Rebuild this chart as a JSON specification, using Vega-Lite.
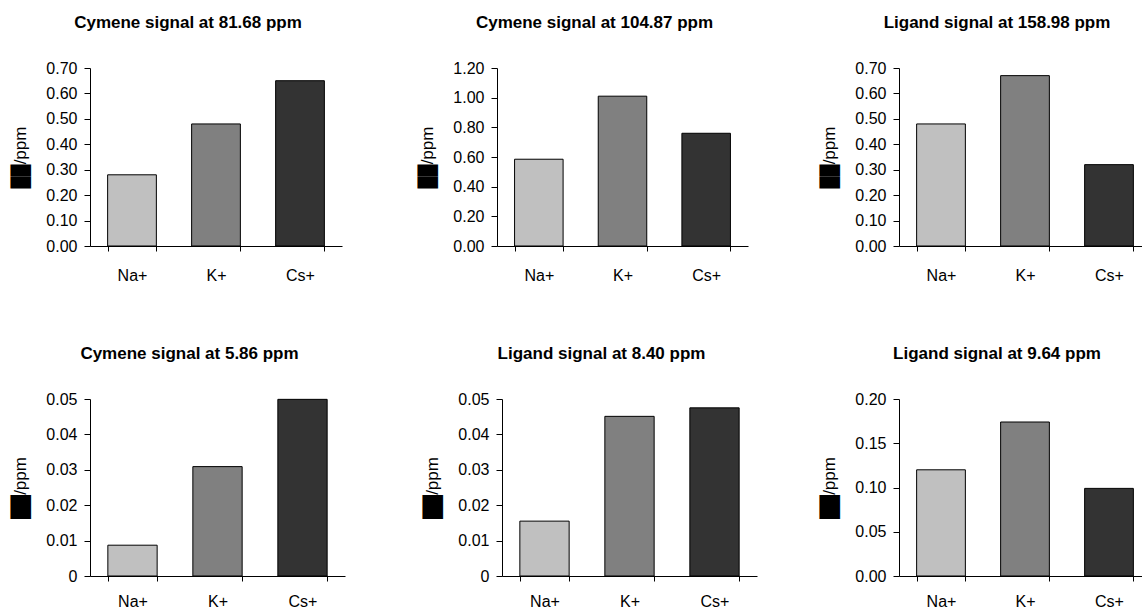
{
  "$schema": "https://vega.github.io/schema/vega-lite/v6.json",
  "padding": {"left": 11, "top": 14, "right": 0, "bottom": 0},
  "background": "white",
  "data": {"values": [
    {"panel": "p1", "ion": "Na+", "value": 0.28},
    {"panel": "p1", "ion": "K+", "value": 0.48},
    {"panel": "p1", "ion": "Cs+", "value": 0.65},
    {"panel": "p2", "ion": "Na+", "value": 0.585},
    {"panel": "p2", "ion": "K+", "value": 1.01},
    {"panel": "p2", "ion": "Cs+", "value": 0.76},
    {"panel": "p3", "ion": "Na+", "value": 0.48},
    {"panel": "p3", "ion": "K+", "value": 0.67},
    {"panel": "p3", "ion": "Cs+", "value": 0.32},
    {"panel": "p4", "ion": "Na+", "value": 0.0087},
    {"panel": "p4", "ion": "K+", "value": 0.0309},
    {"panel": "p4", "ion": "Cs+", "value": 0.0499},
    {"panel": "p5", "ion": "Na+", "value": 0.0155},
    {"panel": "p5", "ion": "K+", "value": 0.0451},
    {"panel": "p5", "ion": "Cs+", "value": 0.0475},
    {"panel": "p6", "ion": "Na+", "value": 0.12},
    {"panel": "p6", "ion": "K+", "value": 0.174},
    {"panel": "p6", "ion": "Cs+", "value": 0.099}
  ]},
  "config": {
    "font": "Liberation Sans",
    "view": {"stroke": null},
    "axis": {"domainColor": "black", "tickColor": "black", "labelColor": "black", "titleColor": "black", "labelFont": "Liberation Sans", "labelFontSize": 16, "grid": false, "domainWidth": 1, "tickWidth": 1},
    "axisX": {"tickBand": "extent", "tickSize": 5, "labelPadding": 16, "labelAngle": 0, "title": null},
    "axisY": {"tickSize": 6, "labelPadding": 7, "minExtent": 44, "maxExtent": 44, "titleFont": "Liberation Sans", "titleFontSize": 17, "titleFontWeight": "normal", "titlePadding": 17},
    "title": {"font": "Liberation Sans", "fontSize": 17, "fontWeight": "bold", "color": "black", "anchor": "middle", "frame": "group", "dx": -28, "baseline": "bottom", "offset": 28},
    "bar": {"stroke": "black", "strokeWidth": 1}
  },
  "spacing": 62,
  "resolve": {"scale": {"y": "independent", "x": "independent"}},
  "vconcat": [
    {
      "spacing": 72,
      "resolve": {"scale": {"y": "independent", "x": "independent"}},
      "hconcat": [
        {
          "spacing": 76,
          "resolve": {"scale": {"y": "independent", "x": "independent"}},
          "hconcat": [
            {
              "width": 252, "height": 178,
              "title": "Cymene signal at 81.68 ppm",
              "transform": [{"filter": "datum.panel == 'p1'"}],
              "mark": "bar",
              "encoding": {
                "x": {"field": "ion", "type": "nominal", "sort": ["Na+", "K+", "Cs+"], "scale": {"paddingInner": 0.42, "paddingOuter": 0.21}},
                "y": {"field": "value", "type": "quantitative", "scale": {"domain": [0, 0.7], "nice": false}, "axis": {"values": [0, 0.1, 0.2, 0.3, 0.4, 0.5, 0.6, 0.7], "format": ".2f", "title": "██/ppm"}},
                "color": {"field": "ion", "type": "nominal", "scale": {"domain": ["Na+", "K+", "Cs+"], "range": ["#c0c0c0", "#808080", "#333333"]}, "legend": null}
              }
            },
            {
              "width": 251, "height": 178,
              "title": "Cymene signal at 104.87 ppm",
              "transform": [{"filter": "datum.panel == 'p2'"}],
              "mark": "bar",
              "encoding": {
                "x": {"field": "ion", "type": "nominal", "sort": ["Na+", "K+", "Cs+"], "scale": {"paddingInner": 0.42, "paddingOuter": 0.21}},
                "y": {"field": "value", "type": "quantitative", "scale": {"domain": [0, 1.2], "nice": false}, "axis": {"values": [0, 0.2, 0.4, 0.6, 0.8, 1.0, 1.2], "format": ".2f", "title": "██/ppm"}},
                "color": {"field": "ion", "type": "nominal", "scale": {"domain": ["Na+", "K+", "Cs+"], "range": ["#c0c0c0", "#808080", "#333333"]}, "legend": null}
              }
            }
          ]
        },
        {
          "width": 252, "height": 178,
          "title": "Ligand signal at 158.98 ppm",
          "transform": [{"filter": "datum.panel == 'p3'"}],
          "mark": "bar",
          "encoding": {
            "x": {"field": "ion", "type": "nominal", "sort": ["Na+", "K+", "Cs+"], "scale": {"paddingInner": 0.42, "paddingOuter": 0.21}},
            "y": {"field": "value", "type": "quantitative", "scale": {"domain": [0, 0.7], "nice": false}, "axis": {"values": [0, 0.1, 0.2, 0.3, 0.4, 0.5, 0.6, 0.7], "format": ".2f", "title": "██/ppm"}},
            "color": {"field": "ion", "type": "nominal", "scale": {"domain": ["Na+", "K+", "Cs+"], "range": ["#c0c0c0", "#808080", "#333333"]}, "legend": null}
          }
        }
      ]
    },
    {
      "spacing": 63,
      "resolve": {"scale": {"y": "independent", "x": "independent"}},
      "hconcat": [
        {
          "spacing": 78,
          "resolve": {"scale": {"y": "independent", "x": "independent"}},
          "hconcat": [
            {
              "width": 255, "height": 177,
              "title": "Cymene signal at 5.86 ppm",
              "transform": [{"filter": "datum.panel == 'p4'"}],
              "mark": "bar",
              "encoding": {
                "x": {"field": "ion", "type": "nominal", "sort": ["Na+", "K+", "Cs+"], "scale": {"paddingInner": 0.42, "paddingOuter": 0.21}, "axis": {"labelPadding": 12}},
                "y": {"field": "value", "type": "quantitative", "scale": {"domain": [0, 0.05], "nice": false}, "axis": {"values": [0, 0.01, 0.02, 0.03, 0.04, 0.05], "labelExpr": "datum.value == 0 ? '0' : format(datum.value, '.2f')", "title": "██/ppm"}},
                "color": {"field": "ion", "type": "nominal", "scale": {"domain": ["Na+", "K+", "Cs+"], "range": ["#c0c0c0", "#808080", "#333333"]}, "legend": null}
              }
            },
            {
              "width": 255, "height": 177,
              "title": "Ligand signal at 8.40 ppm",
              "transform": [{"filter": "datum.panel == 'p5'"}],
              "mark": "bar",
              "encoding": {
                "x": {"field": "ion", "type": "nominal", "sort": ["Na+", "K+", "Cs+"], "scale": {"paddingInner": 0.42, "paddingOuter": 0.21}, "axis": {"labelPadding": 12}},
                "y": {"field": "value", "type": "quantitative", "scale": {"domain": [0, 0.05], "nice": false}, "axis": {"values": [0, 0.01, 0.02, 0.03, 0.04, 0.05], "labelExpr": "datum.value == 0 ? '0' : format(datum.value, '.2f')", "title": "██/ppm"}},
                "color": {"field": "ion", "type": "nominal", "scale": {"domain": ["Na+", "K+", "Cs+"], "range": ["#c0c0c0", "#808080", "#333333"]}, "legend": null}
              }
            }
          ]
        },
        {
          "width": 252, "height": 177,
          "title": "Ligand signal at 9.64 ppm",
          "transform": [{"filter": "datum.panel == 'p6'"}],
          "mark": "bar",
          "encoding": {
            "x": {"field": "ion", "type": "nominal", "sort": ["Na+", "K+", "Cs+"], "scale": {"paddingInner": 0.42, "paddingOuter": 0.21}, "axis": {"labelPadding": 12}},
            "y": {"field": "value", "type": "quantitative", "scale": {"domain": [0, 0.2], "nice": false}, "axis": {"values": [0, 0.05, 0.1, 0.15, 0.2], "format": ".2f", "title": "██/ppm"}},
            "color": {"field": "ion", "type": "nominal", "scale": {"domain": ["Na+", "K+", "Cs+"], "range": ["#c0c0c0", "#808080", "#333333"]}, "legend": null}
          }
        }
      ]
    }
  ]
}
